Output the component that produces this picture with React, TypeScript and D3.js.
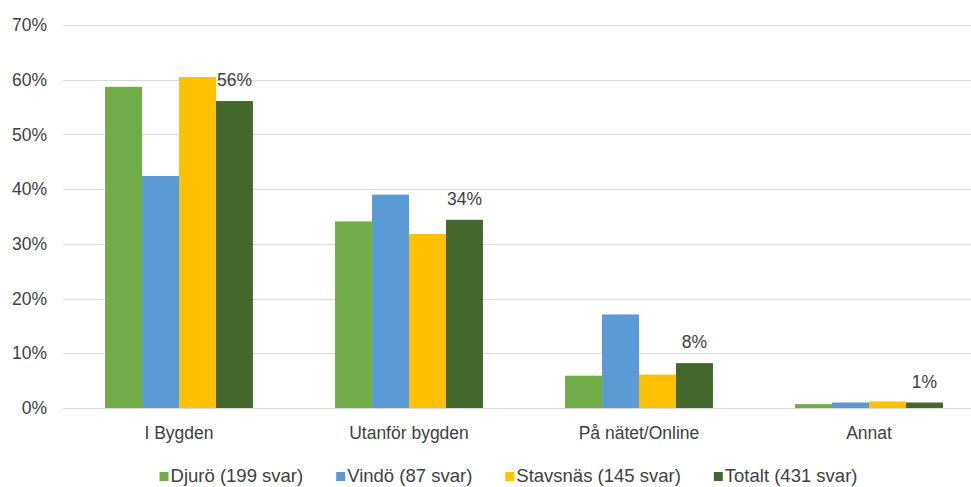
import React, { useEffect, useRef } from 'react';
import * as d3 from 'd3';

const categories = ['I Bygden', 'Utanför bygden', 'På nätet/Online', 'Annat'];
const seriesNames = ['Djurö (199 svar)', 'Vindö (87 svar)', 'Stavsnäs (145 svar)', 'Totalt (431 svar)'];
const djuro = [0.587, 0.341, 0.059, 0.007];
const vindo = [0.424, 0.39, 0.171, 0.01];
const stavsnas = [0.605, 0.318, 0.061, 0.012];
const totalt = [0.561, 0.344, 0.082, 0.01];
const totaltLabels = ['56%', '34%', '8%', '1%'];
const yTicks = [0, 0.1, 0.2, 0.3, 0.4, 0.5, 0.6, 0.7];
const colors = ['#70AD47', '#5B9BD5', '#FFC000', '#43682B'];

const W = 971;
const H = 487;
const FONT = '"Liberation Sans", Arial, sans-serif';
const TEXT = '#404040';
const FS = 17.5;

export default function App() {
  const ref = useRef<SVGSVGElement>(null);

  useEffect(() => {
    const svg = d3.select(ref.current);
    svg.selectAll('*').remove();

    const series = [djuro, vindo, stavsnas, totalt];

    const x = d3.scaleBand().domain(categories).range([64, 984])
      .paddingInner(0.357).paddingOuter(0.1785);
    const xs = d3.scaleBand().domain(d3.range(series.length).map(String))
      .range([0, x.bandwidth()]);
    const y = d3.scaleLinear().domain([0, 0.7]).range([408, 25]);

    // gridlines
    svg.append('g').selectAll('line').data(yTicks).join('line')
      .attr('x1', 63).attr('x2', W)
      .attr('y1', d => Math.round(y(d)) + 0.5).attr('y2', d => Math.round(y(d)) + 0.5)
      .attr('stroke', '#d9d9d9').attr('stroke-width', 1);

    // y labels
    svg.append('g').selectAll('text').data(yTicks).join('text')
      .attr('x', 47).attr('y', d => y(d)).attr('dy', '0.35em')
      .attr('text-anchor', 'end')
      .attr('font-family', FONT).attr('font-size', FS).attr('fill', TEXT)
      .text(d => d3.format('.0%')(d));

    // bars
    const groups = svg.append('g').selectAll('g').data(categories).join('g')
      .attr('transform', c => `translate(${x(c)},0)`);
    groups.selectAll('rect')
      .data((c, ci) => series.map((s, si) => ({ si, v: s[ci] })))
      .join('rect')
      .attr('x', d => xs(String(d.si))!)
      .attr('width', xs.bandwidth())
      .attr('y', d => y(d.v))
      .attr('height', d => y(0) - y(d.v))
      .attr('fill', d => colors[d.si]);

    // labels on Totalt bars
    svg.append('g').selectAll('text').data(categories).join('text')
      .attr('x', (c) => x(c)! + xs('3')! + xs.bandwidth() / 2)
      .attr('y', (c, i) => y(totalt[i]) - 21)
      .attr('dy', '0.35em')
      .attr('text-anchor', 'middle')
      .attr('font-family', FONT).attr('font-size', FS).attr('fill', TEXT)
      .text((c, i) => totaltLabels[i]);

    // category labels
    svg.append('g').selectAll('text').data(categories).join('text')
      .attr('x', c => x(c)! + x.bandwidth() / 2)
      .attr('y', 433).attr('dy', '0.35em')
      .attr('text-anchor', 'middle')
      .attr('font-family', FONT).attr('font-size', FS).attr('fill', TEXT)
      .text(c => c);

    // legend
    const legend = svg.append('g');
    const items = legend.selectAll('g').data(seriesNames).join('g');
    items.append('rect').attr('width', 9).attr('height', 9).attr('y', 472)
      .attr('fill', (d, i) => colors[i]);
    items.append('text').attr('x', 11).attr('y', 476).attr('dy', '0.35em')
      .attr('font-family', FONT).attr('font-size', 18.5).attr('fill', TEXT)
      .text(d => d);
    const widths: number[] = [];
    items.each(function () {
      widths.push((this as SVGGElement).getBBox().width);
    });
    const gap = 33;
    const total = d3.sum(widths) + gap * (widths.length - 1);
    let cx = 508.5 - total / 2;
    items.attr('transform', (d, i) => {
      const t = `translate(${cx},0)`;
      cx += widths[i] + gap;
      return t;
    });
  }, []);

  return (
    <svg ref={ref} width={W} height={H} style={{ position: 'absolute', left: 0, top: 0, background: '#fff' }} />
  );
}
